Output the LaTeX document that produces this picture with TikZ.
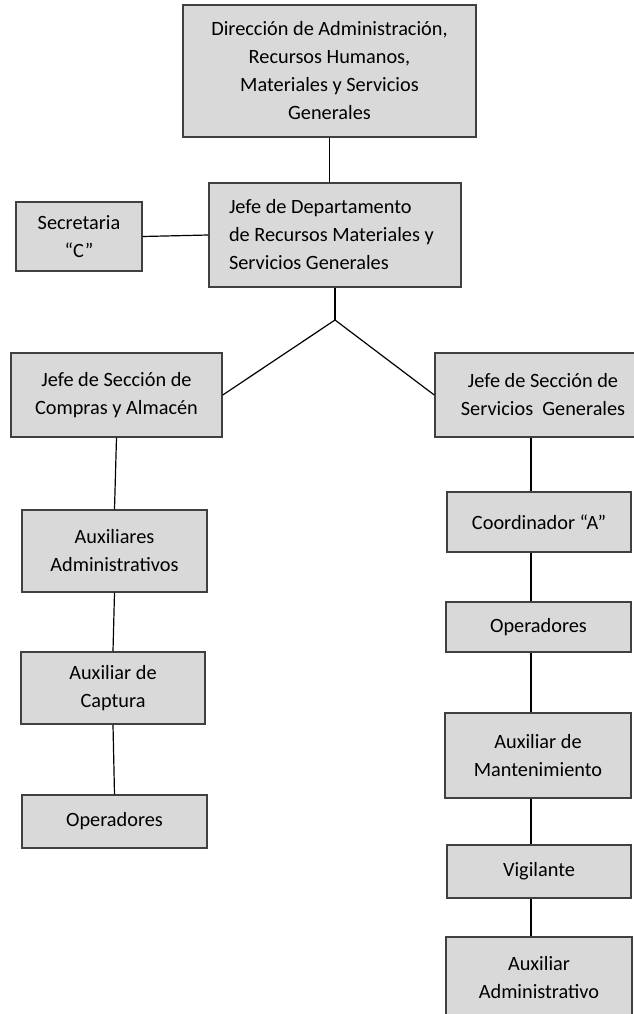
\documentclass[tikz,border=0pt]{standalone}
\usepackage{fontspec}
\setmainfont{Carlito}
\definecolor{boxfill}{HTML}{D9D9D9}
\definecolor{boxline}{HTML}{404040}
\begin{document}
\begin{tikzpicture}[x=1pt,y=-1pt,
  caja/.style={draw=boxline,fill=boxfill,line width=1.5pt,align=center,inner sep=0pt,font=\fontsize{20.3}{28}\selectfont},
  linea/.style={line width=1.2pt}]
\useasboundingbox (0,0) rectangle (633,1014);
\node[caja,minimum width=293,minimum height=132] (dir) at (329.5,71) {Dirección de Administración,\\Recursos Humanos,\\Materiales y Servicios\\Generales};
\node[caja,align=flush left,text width=212pt,inner xsep=20pt,minimum height=104] (jdep) at (335,235) {Jefe de Departamento\\de Recursos Materiales y\\Servicios Generales};
\node[caja,minimum width=126,minimum height=69] (sec) at (79,236.5) {Secretaria\\“C”};

\node[caja,minimum width=211,minimum height=84] (jcom) at (116.5,395) {Jefe de Sección de\\Compras y Almacén};
\node[caja,minimum width=185,minimum height=82] (auxadm) at (114.5,551) {Auxiliares\\Administrativos};
\node[caja,minimum width=184,minimum height=72] (cap) at (113,688) {Auxiliar de\\Captura};
\node[caja,minimum width=185,minimum height=53] (opi) at (114.5,821.5) {Operadores};

\node[caja,minimum width=216,minimum height=84] (jser) at (543,395) {Jefe de Sección de\\Servicios~ Generales};
\node[caja,minimum width=184,minimum height=60] (coord) at (539,522) {Coordinador “A”};
\node[caja,minimum width=185,minimum height=50] (opd) at (538.5,627) {Operadores};
\node[caja,minimum width=186,minimum height=85] (mant) at (538,755.5) {Auxiliar de\\Mantenimiento};
\node[caja,minimum width=184,minimum height=53] (vig) at (539,871.5) {Vigilante};
\node[caja,minimum width=186,minimum height=81] (auxadv) at (539,977.5) {Auxiliar\\Administrativo};

\coordinate (rama) at (335,320);\coordinate (col) at (531,0);
\draw[linea] (dir.south) -- (dir.south |- jdep.north);
\draw[linea] (sec.east) -- (jdep.west);
\draw[linea] (jdep.south) -- (rama);\draw[linea] (jcom.east) -- (rama) -- (jser.west);
\draw[linea] (jcom.south) -- (auxadm.north);\draw[linea] (auxadm.south) -- (cap.north);\draw[linea] (cap.south) -- (opi.north);
\draw[linea] (jser.south -| col) -- (coord.north -| col);\draw[linea] (coord.south -| col) -- (opd.north -| col);
\draw[linea] (opd.south -| col) -- (mant.north -| col);\draw[linea] (mant.south -| col) -- (vig.north -| col);
\draw[linea] (vig.south -| col) -- (auxadv.north -| col);
\end{tikzpicture}
\end{document}
